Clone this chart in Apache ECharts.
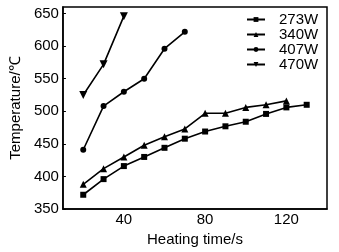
<!DOCTYPE html>
<html>
<head>
<meta charset="utf-8">
<script src="https://cdn.jsdelivr.net/npm/echarts@6/dist/echarts.min.js"></script>
<style>
  html, body { margin: 0; padding: 0; background: #fff; }
  #chart { width: 339px; height: 252px; }
</style>
</head>
<body>
<div id="chart"></div>
<script>
const seriesNames = ['273W', '340W', '407W', '470W']
const time273 = [20, 30, 40, 50, 60, 70, 80, 90, 100, 110, 120, 130]
const temp273 = [372, 396, 416, 430, 444, 458, 469, 477, 484, 496, 506, 510]
const time340 = [20, 30, 40, 50, 60, 70, 80, 90, 100, 110, 120]
const temp340 = [388, 412, 430, 448, 461, 473, 497, 497, 506, 510, 516]
const time407 = [20, 30, 40, 50, 60, 70]
const temp407 = [441, 508, 530, 550, 596, 622]
const time470 = [20, 30, 40]
const temp470 = [525, 572, 646]
const xTickLabels = [40, 80, 120]

const font = 'Liberation Sans, Arial, sans-serif'
const symbols = ['rect', 'triangle', 'circle', 'path://M0,0 L10,0 L5,9 Z']
const sizes = [6, 7, 6, 8]
const times = [time273, time340, time407, time470]
const temps = [temp273, temp340, temp407, temp470]

const chart = echarts.init(document.getElementById('chart'))
chart.setOption({
  animation: false,
  backgroundColor: '#fff',
  grid: { left: 58, right: 12, top: 7, bottom: 41, show: true, borderColor: '#000', borderWidth: 1.5 },
  legend: {
    orient: 'vertical',
    left: 246,
    top: 12,
    padding: 0,
    itemWidth: 18,
    itemHeight: 6,
    itemGap: 0,
    data: seriesNames,
    textStyle: { fontFamily: font, fontSize: 15, lineHeight: 14.5, color: '#000', padding: [0, 0, 0, 9] },
  },
  xAxis: {
    type: 'value',
    min: 10,
    max: 140,
    interval: 10,
    name: 'Heating time/s',
    nameLocation: 'middle',
    nameGap: 20,
    nameTextStyle: { fontFamily: font, fontSize: 15, color: '#000' },
    axisLine: { lineStyle: { color: '#000', width: 1.5 } },
    axisTick: { show: false },
    splitLine: { show: false },
    axisLabel: {
      fontFamily: font, fontSize: 15, color: '#000', margin: 3,
      formatter: (v) => (xTickLabels.includes(v) ? String(v) : ''),
    },
  },
  yAxis: {
    type: 'value',
    min: 350,
    max: 660,
    interval: 50,
    name: 'Temperature/℃',
    nameLocation: 'middle',
    nameGap: 37,
    nameTextStyle: { fontFamily: font, fontSize: 15, color: '#000' },
    axisLine: { lineStyle: { color: '#000', width: 1.5 } },
    axisTick: { inside: true, length: 3, lineStyle: { color: '#000' } },
    splitLine: { show: false },
    axisLabel: {
      fontFamily: font, fontSize: 15, color: '#000', margin: 4,
      showMaxLabel: false,
      formatter: (v) => (v % 50 === 0 ? String(v) : ''),
    },
  },
  series: seriesNames.map((n, i) => ({
    name: n,
    type: 'line',
    symbol: symbols[i],
    symbolSize: sizes[i],
    showAllSymbol: true,
    lineStyle: { color: '#000', width: 1.6 },
    itemStyle: { color: '#000' },
    data: times[i].map((t, j) => [t, temps[i][j]]),
  })),
})
</script>
</body>
</html>
